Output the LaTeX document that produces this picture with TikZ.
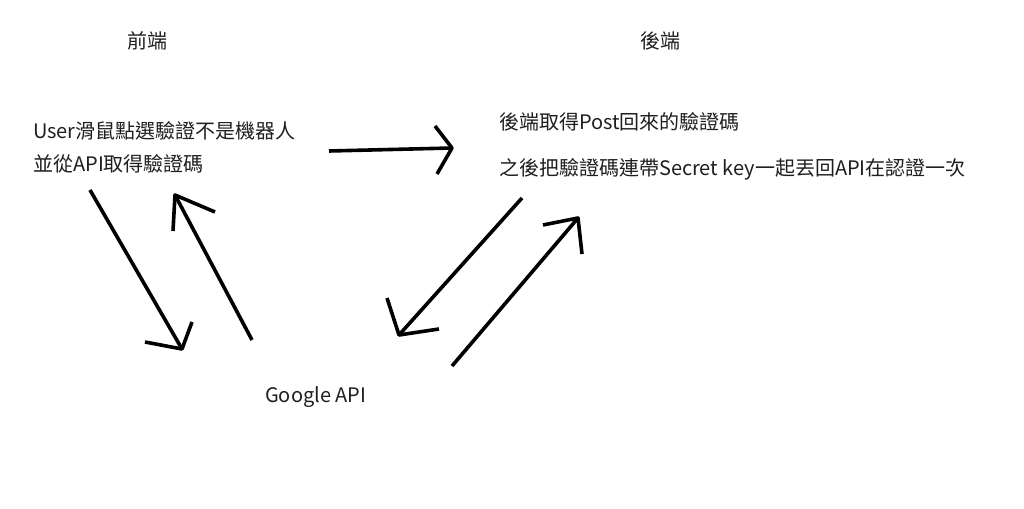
\documentclass[tikz,border=0pt]{standalone}
\usepackage{fontspec}
\setmainfont{Noto Sans CJK TC}
\begin{document}
\begin{tikzpicture}[x=1pt,y=-1pt,
  lbl/.style={inner sep=0pt, font=\fontsize{20}{24}\selectfont, text=black!88},
  stroke/.style={line width=3.6pt, line join=round}]
\useasboundingbox[fill=white] (0,0) rectangle (1024,508);
% labels
\node[lbl] (fe) at (147,41) {前端};
\node[lbl] (be) at (660,41) {後端};
\node[lbl, anchor=west] (l1) at (33,131) {User滑鼠點選驗證不是機器人};
\node[lbl, anchor=west] (l2) at (33,164) {並從API取得驗證碼};
\node[lbl, anchor=west] (r1) at (499,122) {後端取得Post回來的驗證碼};
\node[lbl, anchor=west] (r2) at (499,169) {之後把驗證碼連帶Secret key一起丟回API在認證一次};
\node[lbl, anchor=west] (g) at (265,397) {Google API};
% arrow: front -> back
\coordinate (a1s) at (329,151);
\coordinate (a1t) at (452,148);
\coordinate (a1h1) at (435,126);
\coordinate (a1h2) at (437,174);
\draw[stroke] (a1s) -- (a1t);
\draw[stroke] (a1h1) -- (a1t) -- (a1h2);
% arrow: front -> google
\coordinate (a2s) at (90,190);
\coordinate (a2t) at (182,349);
\coordinate (a2h1) at (145,342);
\coordinate (a2h2) at (192,322);
\draw[stroke] (a2s) -- (a2t);
\draw[stroke] (a2h1) -- (a2t) -- (a2h2);
% arrow: google -> front
\coordinate (a3s) at (252,340);
\coordinate (a3t) at (175,195);
\coordinate (a3h1) at (173,231);
\coordinate (a3h2) at (215,212);
\draw[stroke] (a3s) -- (a3t);
\draw[stroke] (a3h1) -- (a3t) -- (a3h2);
% arrow: back -> google
\coordinate (a4s) at (522,198);
\coordinate (a4t) at (399,335);
\coordinate (a4h1) at (387,298);
\coordinate (a4h2) at (439,329);
\draw[stroke] (a4s) -- (a4t);
\draw[stroke] (a4h1) -- (a4t) -- (a4h2);
% arrow: google -> back
\coordinate (a5s) at (452,366);
\coordinate (a5t) at (578,218);
\coordinate (a5h1) at (543,225);
\coordinate (a5h2) at (582,254);
\draw[stroke] (a5s) -- (a5t);
\draw[stroke] (a5h1) -- (a5t) -- (a5h2);
\end{tikzpicture}
\end{document}
